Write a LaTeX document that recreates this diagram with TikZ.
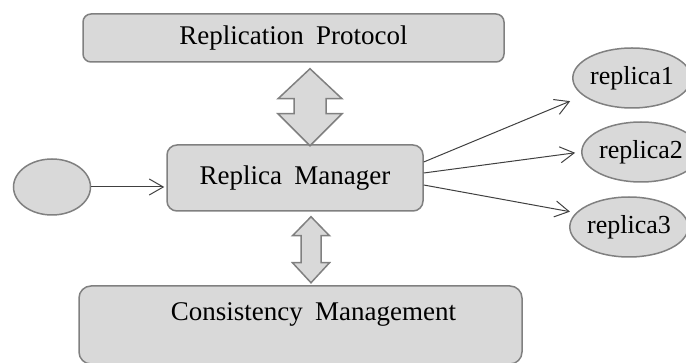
\documentclass[tikz,border=0pt]{standalone}
\usepackage{fontspec}
\setmainfont{Liberation Serif}
\usetikzlibrary{shapes.geometric,arrows.meta,positioning,calc}
\definecolor{boxfill}{RGB}{217,217,217}
\definecolor{boxline}{RGB}{128,128,128}
\definecolor{arrowgray}{RGB}{64,64,64}

\begin{document}
\begin{tikzpicture}[
    x=0.5pt, y=-0.5pt,
    >={Straight Barb[length=7pt,width=8pt]},
    modbox/.style={draw=boxline, fill=boxfill, line width=0.75pt, rounded corners=#1,
                   font=\fontsize{13.5}{16}\selectfont, inner sep=0pt},
    repnode/.style={ellipse, draw=boxline, fill=boxfill, line width=0.75pt,
                    minimum width=53pt, minimum height=30pt, inner sep=0pt,
                    font=\fontsize{13}{15}\selectfont},
    dblarr/.style={draw=boxline, fill=boxfill, line width=0.75pt, line join=miter},
    arr/.style={->, line width=0.5pt, color=arrowgray},
]
\useasboundingbox (0,0) rectangle (686,363);

% ============ MODULE BOXES ============
\node[modbox=4pt, minimum width=210.5pt, minimum height=24pt] at (293.5,38) (proto)
    {Replication\hspace{0.45em}Protocol};
\node[modbox=5pt, minimum width=128pt, minimum height=33pt] at (295,178) (rm)
    {Replica\hspace{0.45em}Manager};
\node[modbox=6pt, minimum width=221.5pt, minimum height=39pt] at (300.5,325) (cons) {};
\node[font=\fontsize{13.5}{16}\selectfont] at ($(cons.center) + (13,-11)$) (constext)
    {Consistency\hspace{0.45em}Management};

% ============ CLIENT AND REPLICAS ============
\node[repnode, minimum width=38.5pt, minimum height=28pt] at (52,187) (client) {};
\node[repnode] at (632,78) (rep1) {replica1};
\node[repnode] at (641,152) (rep2) {replica2};
\node[repnode] at (629,227) (rep3) {replica3};

% ============ DOUBLE ARROWS ============
\coordinate (protoarr) at ($(proto.south) + (16.5,6)$);
\draw[dblarr] (protoarr) -- ++(32,30) -- ++(-16,0) -- ++(0,15) -- ++(16,0) -- ++(-32,32)
    -- ++(-32,-32) -- ++(16,0) -- ++(0,-15) -- ++(-16,0) -- cycle;
\coordinate (consarr) at ($(rm.south) + (16,5)$);
\draw[dblarr] (consarr) -- ++(18.5,19) -- ++(-8.5,0) -- ++(0,27) -- ++(8.5,0) -- ++(-18.5,20)
    -- ++(-18.5,-20) -- ++(8.5,0) -- ++(0,-27) -- ++(-8.5,0) -- cycle;

% ============ ARROWS ============
\draw[arr, shorten >=1pt] (client.east) -- (client -| rm.west);
\draw[arr, shorten >=7pt] ($(rm.east) + (0,-16)$) -- (rep1.200);
\draw[arr, shorten >=3pt] ($(rm.east) + (0,-5)$) -- (rep2.west);
\draw[arr, shorten >=3pt] ($(rm.east) + (0,7)$) -- (rep3.165);

\end{tikzpicture}
\end{document}
